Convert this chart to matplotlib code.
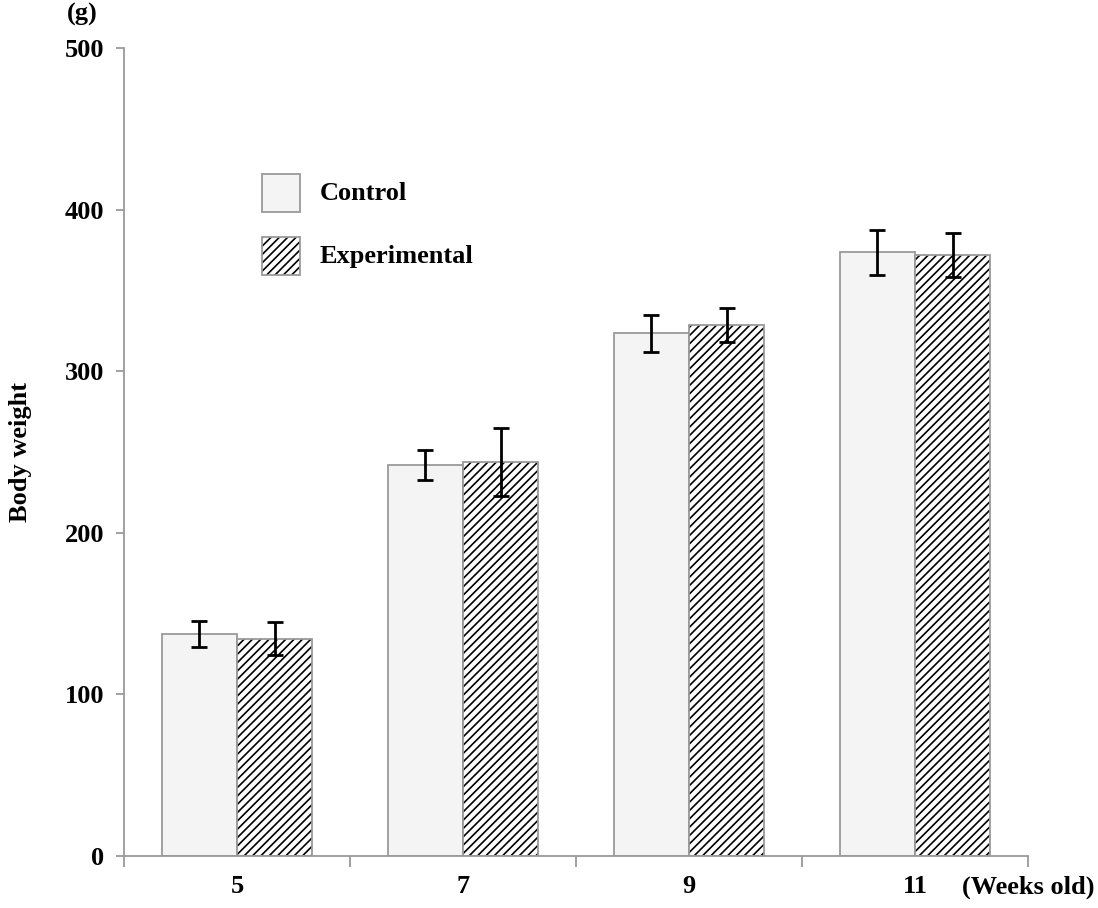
import matplotlib
matplotlib.use("Agg")
import matplotlib.pyplot as plt
from matplotlib.patches import Rectangle
import numpy as np

weeks = ["5", "7", "9", "11"]
control = [137.5, 242, 323.5, 373.5]
control_err = [8, 9.5, 11.5, 14]
experimental = [134.5, 244, 328.5, 372]
experimental_err = [10, 21, 10.5, 13.5]

plt.rcParams['font.family'] = ['Liberation Serif', 'DejaVu Serif']
plt.rcParams['font.weight'] = 'bold'
plt.rcParams['hatch.linewidth'] = 1.2

FS = 19
fig = plt.figure(figsize=(10.98, 9.08), dpi=100)
ax = fig.add_axes([124/1098, 52/908, 904/1098, 808/908])

x = np.arange(len(weeks))
w = 0.333
gray = '#9a9a9a'
ax.bar(x - w/2, control, w, color='#f4f4f4', edgecolor=gray, linewidth=1.3, zorder=2)
# hatched fill (hatch takes the edge colour), then gray outline on top
ax.bar(x + w/2, experimental, w, color='white', edgecolor='black', linewidth=0,
       hatch='////', zorder=2)
ax.bar(x + w/2, experimental, w, fill=False, edgecolor=gray, linewidth=1.3, zorder=2.5)
ax.errorbar(x - w/2, control, yerr=control_err, fmt='none', ecolor='black',
            elinewidth=2, capsize=5.5, capthick=2, zorder=3)
ax.errorbar(x + w/2, experimental, yerr=experimental_err, fmt='none', ecolor='black',
            elinewidth=2, capsize=5.5, capthick=2, zorder=3)

ax.set_xlim(-0.5, len(weeks) - 0.5)
ax.set_ylim(0, 500)
ax.set_yticks([0, 100, 200, 300, 400, 500])
ax.set_xticks(x)
ax.set_xticklabels(weeks)
ax.set_xticks(np.arange(-0.5, len(weeks)), minor=True)
ax.tick_params(axis='x', which='major', length=0, pad=14, labelsize=FS)
ax.tick_params(axis='x', which='minor', length=8, width=1.3, color=gray, direction='out')
ax.tick_params(axis='y', length=6, width=1.3, color=gray, direction='out', pad=8, labelsize=FS)
for lab in ax.get_xticklabels() + ax.get_yticklabels():
    lab.set_fontweight('bold')

for s in ['top', 'right']:
    ax.spines[s].set_visible(False)
for s in ['left', 'bottom']:
    ax.spines[s].set_color(gray)
    ax.spines[s].set_linewidth(1.3)

ax.set_ylabel('Body weight', fontsize=FS, fontweight='bold', labelpad=24)
fig.text(82/1098, 1 - 14/908, '(g)', fontsize=FS, fontweight='bold', ha='center', va='center')
fig.text(1028/1098, 1 - 887/908, '(Weeks old)', fontsize=FS, fontweight='bold', ha='center', va='center')

# legend (manual, in figure pixel coordinates)
def px(xp, yp):
    return (xp/1098, 1 - yp/908)

def leg_patch(x0, y0, hatched):
    if hatched:
        fig.patches.append(Rectangle(px(x0, y0 + 38), 38/1098, 38/908, transform=fig.transFigure,
                                     facecolor='white', edgecolor='black', linewidth=0, hatch='////'))
        fig.patches.append(Rectangle(px(x0, y0 + 38), 38/1098, 38/908, transform=fig.transFigure,
                                     fill=False, edgecolor=gray, linewidth=1.3))
    else:
        fig.patches.append(Rectangle(px(x0, y0 + 38), 38/1098, 38/908, transform=fig.transFigure,
                                     facecolor='#f4f4f4', edgecolor=gray, linewidth=1.3))

leg_patch(262, 174, False)
leg_patch(262, 237, True)
fig.text(*px(320, 193), 'Control', fontsize=FS, fontweight='bold', ha='left', va='center')
fig.text(*px(320, 256), 'Experimental', fontsize=FS, fontweight='bold', ha='left', va='center')

fig.savefig('out.png', dpi=100)
